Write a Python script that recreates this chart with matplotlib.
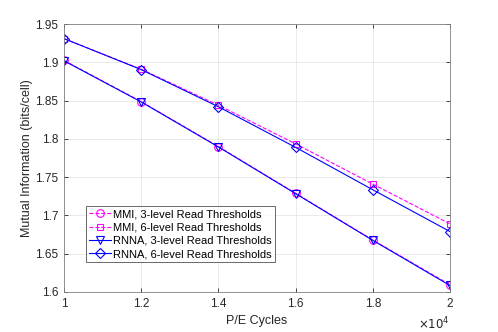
import matplotlib
matplotlib.use("Agg")
import matplotlib.pyplot as plt

plt.rcParams['font.family'] = ['Liberation Sans', 'DejaVu Sans']

# P/E cycles (x 10^4)
pe = [1.0, 1.2, 1.4, 1.6, 1.8, 2.0]

# mutual information values
mmi_3 = [1.9025, 1.8487, 1.7900, 1.7290, 1.6680, 1.6095]
mmi_6 = [1.9310, 1.8910, 1.8440, 1.7935, 1.7410, 1.6890]
rnna_3 = [1.9020, 1.8483, 1.7895, 1.7285, 1.6675, 1.6085]
rnna_6 = [1.9310, 1.8905, 1.8420, 1.7890, 1.7336, 1.6790]

labels = ['MMI, 3-level Read Thresholds', 'MMI, 6-level Read Thresholds',
          'RNNA, 3-level Read Thresholds', 'RNNA, 6-level Read Thresholds']

fig = plt.figure(figsize=(4.98, 3.32), dpi=100)
ax = fig.add_axes([0.1285, 0.1205, 0.775, 0.807])

lw = 0.8
ms = 5.5
ax.plot(pe, mmi_3, '--o', color='#FF00FF', lw=lw, ms=ms, mfc='none', mew=0.8, label=labels[0])
ax.plot(pe, mmi_6, '--s', color='#FF00FF', lw=lw, ms=ms - 0.5, mfc='none', mew=0.8, label=labels[1])
ax.plot(pe, rnna_3, '-v', color='#0000FF', lw=lw, ms=ms, mfc='none', mew=0.8, label=labels[2])
ax.plot(pe, rnna_6, '-D', color='#0000FF', lw=lw, ms=ms - 0.5, mfc='none', mew=0.8, label=labels[3])

ax.set_xlim(1, 2)
ax.set_ylim(1.6, 1.95)
ax.set_xticks([1, 1.2, 1.4, 1.6, 1.8, 2])
ax.set_xticklabels(['1', '1.2', '1.4', '1.6', '1.8', '2'])
ax.set_yticks([1.6, 1.65, 1.7, 1.75, 1.8, 1.85, 1.9, 1.95])
ax.set_yticklabels(['1.6', '1.65', '1.7', '1.75', '1.8', '1.85', '1.9', '1.95'])
ax.tick_params(direction='in', length=3, width=0.6, labelsize=8.5, colors='#262626',
               top=True, right=True, pad=4)
for s in ax.spines.values():
    s.set_color('#808080')
    s.set_linewidth(0.6)
ax.grid(True, color='#e6e6e6', linewidth=0.6)
ax.set_axisbelow(True)

ax.set_xlabel('P/E Cycles', fontsize=9, color='#262626', labelpad=4)
ax.set_ylabel('Mutual Information (bits/cell)', fontsize=9, color='#262626', labelpad=2)
ax.text(1.0, -0.09, r'$\times10^4$', transform=ax.transAxes, ha='right', va='top',
        fontsize=8.5, color='#262626')

leg = ax.legend(loc='lower left', bbox_to_anchor=(0.057, 0.112), fontsize=8, frameon=True,
                fancybox=False, edgecolor='#262626', handlelength=2.0, handletextpad=0.2,
                borderpad=0.25, labelspacing=0.3, borderaxespad=0)
leg.get_frame().set_linewidth(0.6)

fig.savefig('out.png', dpi=100)
